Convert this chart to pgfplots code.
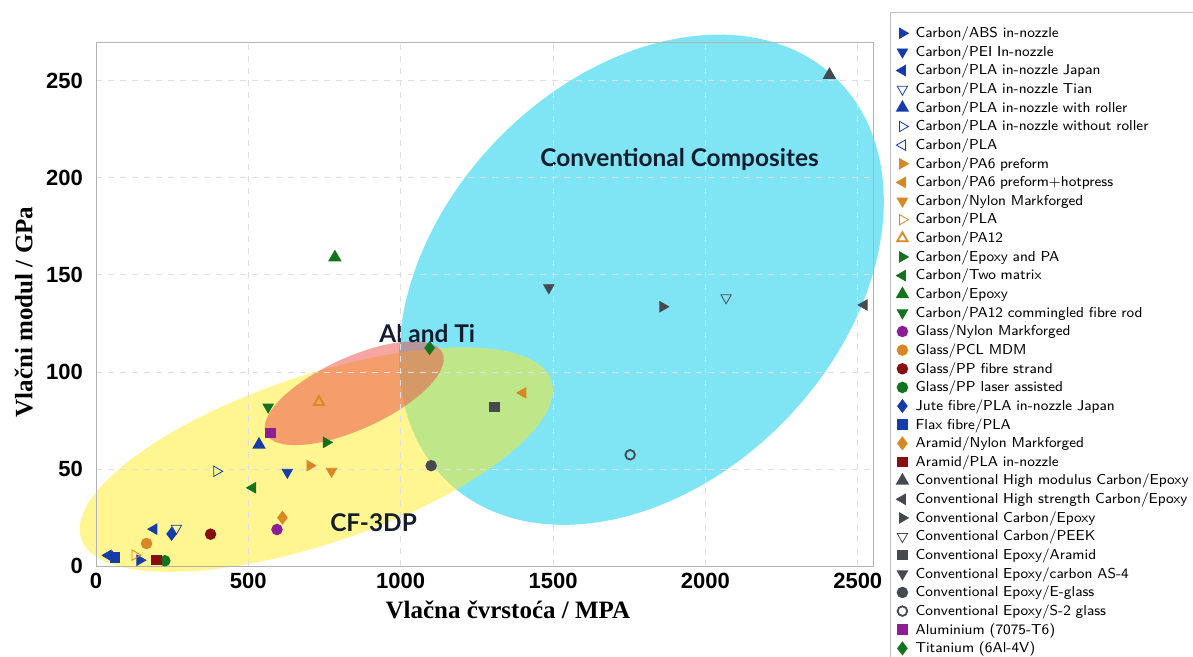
\documentclass[border=0pt]{standalone}
\usepackage{fontspec}
\setmainfont{Liberation Serif}
\newfontfamily\tickfont{Liberation Sans}
\newfontfamily\notefont{Lato}
\usepackage{pgfplots}
\pgfplotsset{compat=1.18}

\definecolor{cblue}{RGB}{22,60,170}
\definecolor{corange}{RGB}{215,135,35}
\definecolor{cgreen}{RGB}{20,115,30}
\definecolor{cpurple}{RGB}{140,30,150}
\definecolor{cdred}{RGB}{135,15,15}
\definecolor{cgray}{RGB}{70,74,80}
\definecolor{ecyan}{RGB}{0,201,231}
\definecolor{eyellow}{RGB}{255,235,35}
\definecolor{ered}{RGB}{235,75,70}
\definecolor{notecol}{RGB}{20,28,45}

\pgfplotsset{
  pt/.style={only marks, mark size=2.4pt, color=#1, mark options={solid, line width=0.9pt}},
  tri/.style={only marks, mark size=3pt, color=#1, mark options={solid, line width=0.9pt}},
}
\tikzset{note/.style={font=\notefont\bfseries\fontsize{12.2}{14}\selectfont, text=notecol}}

\begin{document}
\begin{tikzpicture}
\begin{axis}[
  at={(0,0)}, anchor=south west,
  width=388.5pt, height=262pt, scale only axis,
  xmin=0, xmax=2550, ymin=0, ymax=270,
  xtick={0,500,...,2500}, ytick={0,50,...,250},
  grid=major, grid style={dashed, gray!25},
  axis line style={gray!60},
  major tick length=0pt,
  axis on top, clip=false,
  /pgf/number format/assume math mode=true,
  /pgf/number format/1000 sep={},
  ticklabel style={font=\tickfont\bfseries\fontsize{11}{13}\selectfont},
  yticklabel style={xshift=-3pt},
  xlabel={Vlačna čvrstoća / MPA},
  ylabel={Vlačni modul / GPa},
  label style={font=\bfseries\fontsize{12.5}{14}\selectfont},
  xlabel style={at={(axis description cs:0.53,-0.084)}, anchor=center},
  ylabel style={at={(axis description cs:-0.093,0.485)}, anchor=center},
  legend cell align=left,
  legend image code/.code={\draw[#1] plot coordinates {(0pt,0pt)};},
  legend style={at={(axis description cs:1.0219,1.0573)}, anchor=north west,
    draw=gray!50, fill=white, font=\sffamily\fontsize{7.2}{9}\selectfont,
    inner xsep=3pt, inner ysep=6pt, row sep=0.42pt,
    nodes={inner sep=0.6pt, text height=6pt, text depth=1.7pt},
    /tikz/every odd column/.append style={column sep=3pt},
    /tikz/every even column/.append style={text width=150pt, align=left}},
]
% regions
\fill[ecyan, opacity=0.5] (axis cs:1790,147.5) ellipse [x radius=140pt, y radius=100.5pt, rotate=46];
\fill[eyellow, opacity=0.5] (axis cs:723,54.8) ellipse [x radius=124pt, y radius=42pt, rotate=18.6];
\fill[ered, opacity=0.5] (axis cs:847.5,89) ellipse [x radius=48.5pt, y radius=18pt, rotate=24.5];

\addplot[tri=cblue, mark=triangle*, mark options={rotate=-90}] coordinates {(144,3)};
\addlegendentry{Carbon/ABS in-nozzle}
\addplot[tri=cblue, mark=triangle*, mark options={rotate=180}] coordinates {(628,48.3)};
\addlegendentry{Carbon/PEI In-nozzle}
\addplot[tri=cblue, mark=triangle*, mark options={rotate=90}] coordinates {(40,5.5) (190,19)};
\addlegendentry{Carbon/PLA in-nozzle Japan}
\addplot[tri=cblue, mark=triangle, mark options={rotate=180}] coordinates {(264,19.5)};
\addlegendentry{Carbon/PLA in-nozzle Tian}
\addplot[tri=cblue, mark=triangle*] coordinates {(535,62.5)};
\addlegendentry{Carbon/PLA in-nozzle with roller}
\addplot[tri=cblue, mark=triangle, mark options={rotate=-90}] coordinates {(396,48.8)};
\addlegendentry{Carbon/PLA in-nozzle without roller}
\addplot[tri=cblue, mark=triangle, mark options={rotate=90}] coordinates {(45,5)};
\addlegendentry{Carbon/PLA}
\addplot[tri=corange, mark=triangle*, mark options={rotate=-90}] coordinates {(702,51.7)};
\addlegendentry{Carbon/PA6 preform}
\addplot[tri=corange, mark=triangle*, mark options={rotate=90}] coordinates {(1401,89.2)};
\addlegendentry{Carbon/PA6 preform+hotpress}
\addplot[tri=corange, mark=triangle*, mark options={rotate=180}] coordinates {(773,48.8)};
\addlegendentry{Carbon/Nylon Markforged}
\addplot[tri=corange, mark=triangle, mark options={rotate=-90}] coordinates {(128,5.6)};
\addlegendentry{Carbon/PLA}
\addplot[tri=corange, mark=triangle] coordinates {(732,84.5)};
\addlegendentry{Carbon/PA12}
\addplot[tri=cgreen, mark=triangle*, mark options={rotate=-90}] coordinates {(756,63.7)};
\addlegendentry{Carbon/Epoxy and PA}
\addplot[tri=cgreen, mark=triangle*, mark options={rotate=90}] coordinates {(514,40.3)};
\addlegendentry{Carbon/Two matrix}
\addplot[tri=cgreen, mark=triangle*] coordinates {(784,159)};
\addlegendentry{Carbon/Epoxy}
\addplot[tri=cgreen, mark=triangle*, mark options={rotate=180}] coordinates {(565,81.9)};
\addlegendentry{Carbon/PA12 commingled fibre rod}
\addplot[pt=cpurple, mark=*] coordinates {(594,18.8)};
\addlegendentry{Glass/Nylon Markforged}
\addplot[pt=corange, mark=*] coordinates {(166,11.6)};
\addlegendentry{Glass/PCL MDM}
\addplot[pt=cdred, mark=*] coordinates {(376,16.4)};
\addlegendentry{Glass/PP fibre strand}
\addplot[pt=cgreen, mark=*] coordinates {(226,2.7)};
\addlegendentry{Glass/PP laser assisted}
\addplot[pt=cblue, mark=diamond*, mark size=2.8pt] coordinates {(248,16.5)};
\addlegendentry{Jute fibre/PLA in-nozzle Japan}
\addplot[pt=cblue, mark=square*, mark size=2.2pt] coordinates {(62,4.4)};
\addlegendentry{Flax fibre/PLA}
\addplot[pt=corange, mark=diamond*, mark size=2.8pt] coordinates {(612,24.9)};
\addlegendentry{Aramid/Nylon Markforged}
\addplot[pt=cdred, mark=square*, mark size=2.2pt] coordinates {(199,3)};
\addlegendentry{Aramid/PLA in-nozzle}
\addplot[tri=cgray, mark=triangle*] coordinates {(2407,253)};
\addlegendentry{Conventional High modulus Carbon/Epoxy}
\addplot[tri=cgray, mark=triangle*, mark options={rotate=90}] coordinates {(2521,134.5)};
\addlegendentry{Conventional High strength Carbon/Epoxy}
\addplot[tri=cgray, mark=triangle*, mark options={rotate=-90}] coordinates {(1860,133.6)};
\addlegendentry{Conventional Carbon/Epoxy}
\addplot[tri=cgray, mark=triangle, mark options={rotate=180}] coordinates {(2068,138.2)};
\addlegendentry{Conventional Carbon/PEEK}
\addplot[pt=cgray, mark=square*, mark size=2.2pt] coordinates {(1308,81.9)};
\addlegendentry{Conventional Epoxy/Aramid}
\addplot[tri=cgray, mark=triangle*, mark options={rotate=180}] coordinates {(1486,143.4)};
\addlegendentry{Conventional Epoxy/carbon AS-4}
\addplot[pt=cgray, mark=*] coordinates {(1100,51.7)};
\addlegendentry{Conventional Epoxy/E-glass}
\addplot[pt=cgray, mark=o] coordinates {(1753,57.3)};
\addlegendentry{Conventional Epoxy/S-2 glass}
\addplot[pt=cpurple, mark=square*, mark size=2.2pt] coordinates {(573,68.5)};
\addlegendentry{Aluminium (7075-T6)}
\addplot[pt=cgreen, mark=diamond*, mark size=2.8pt] coordinates {(1095,112.3)};
\addlegendentry{Titanium (6Al-4V)}

\node[note] at (axis cs:1915,209.4) {Conventional Composites};
\node[note] at (axis cs:1087,119.8) {Al and Ti};
\node[note] at (axis cs:911,22.5) {CF-3DP};
\end{axis}
\pgfresetboundingbox
\path[use as bounding box] (-48pt,-45.5pt) rectangle (548.5pt,283pt);
\end{tikzpicture}
\end{document}
